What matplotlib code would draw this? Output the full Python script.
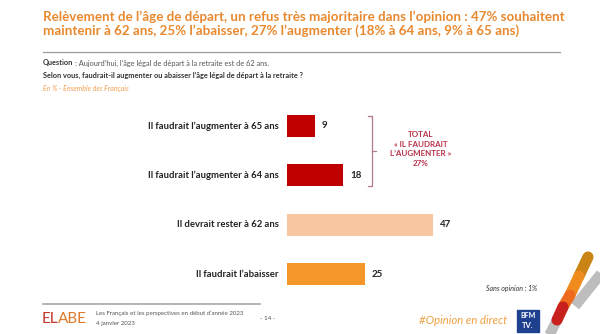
import matplotlib
matplotlib.use("Agg")
import matplotlib.pyplot as plt
from matplotlib.patches import Rectangle
from matplotlib.lines import Line2D

W, H = 600, 334

labels = ["Il faudrait l\u2019augmenter \u00e0 65 ans",
          "Il faudrait l\u2019augmenter \u00e0 64 ans",
          "Il devrait rester \u00e0 62 ans",
          "Il faudrait l\u2019abaisser"]
values = [9, 18, 47, 25]
colors = ["#C00000", "#C00000", "#F8C6A0", "#F5962A"]

title_lines = ["Rel\u00e8vement de l\u2019\u00e2ge de d\u00e9part, un refus tr\u00e8s majoritaire dans l\u2019opinion : 47% souhaitent",
               "maintenir \u00e0 62 ans, 25% l\u2019abaisser, 27% l\u2019augmenter (18% \u00e0 64 ans, 9% \u00e0 65 ans)"]
total_text = "TOTAL\n\u00ab IL FAUDRAIT\nL\u2019AUGMENTER \u00bb\n27%"

plt.rcParams['font.family'] = ['Lato', 'DejaVu Sans']

fig = plt.figure(figsize=(6, 3.34), dpi=100)
fig.patch.set_facecolor("white")


def fx(x):
    return x / W


def fy(y):
    return 1 - y / H


def txt(x, y, s, **kw):
    return fig.text(fx(x), fy(y), s, **kw)


def line(xs, ys, **kw):
    fig.add_artist(Line2D([fx(v) for v in xs], [fy(v) for v in ys], **kw))


# title
for yy, s in zip([17, 31], title_lines):
    txt(43, yy, s, color="#E8892F", fontsize=9.6, fontweight="bold",
        va="center", ha="left")
line([43, 560], [52, 52], color="#9A9A9A", lw=0.9)

q = txt(43, 63, "Question", fontsize=5.3, fontweight="bold", color="#333333", va="center")
fig.canvas.draw()
qx = q.get_window_extent().x1
txt(qx + 1.5, 63, ": Aujourd\u2019hui, l\u2019\u00e2ge l\u00e9gal de d\u00e9part \u00e0 la retraite est de 62 ans.",
    fontsize=5.3, color="#555555", va="center")
txt(43, 75, "Selon vous, faudrait-il augmenter ou abaisser l\u2019\u00e2ge l\u00e9gal de d\u00e9part \u00e0 la retraite ?",
    fontsize=5.3, fontweight="bold", color="#333333", va="center")
txt(43, 88, "En % - Ensemble des Fran\u00e7ais", fontsize=5.0, style="italic",
    color="#F0A050", va="center")

# bars
top_px, bot_px = 101.3, 298.7
ax = fig.add_axes([fx(287), fy(bot_px), fx(310), (bot_px - top_px) / H])
y = list(range(len(values)))
ax.barh(y, values, height=0.44, color=colors)
ax.set_xlim(0, 100)
ax.set_ylim(3.5, -0.5)
ax.axis("off")
for yi, v, lab in zip(y, values, labels):
    ax.text(v + 2.3, yi, str(v), va="center", ha="left", fontsize=7,
            fontweight="bold", color="#222222")
    ax.text(-2.6, yi, lab, va="center", ha="right", fontsize=6.8,
            fontweight="bold", color="#222222")

# bracket
bc = "#B07A88"
line([368, 372, 372, 368], [116, 116, 186, 186], color=bc, lw=0.9)
line([372, 376], [151, 151], color=bc, lw=0.9)
txt(421, 149, total_text, fontsize=5.8, fontweight="bold", color="#B8334A",
    ha="center", va="center", linespacing=1.45)

txt(537, 288, "Sans opinion : 1%", fontsize=5.0, style="italic", color="#333333",
    ha="right", va="center")

# footer
line([43, 260], [304, 304], color="#A8A8A8", lw=1.2)
txt(42, 319, "EL", fontsize=11, color="#C0392B", va="center", ha="left")
txt(58, 319, "ABE", fontsize=11, color="#E07A2A", va="center", ha="left")
txt(96, 313, "Les Fran\u00e7ais et les perspectives en d\u00e9but d\u2019ann\u00e9e 2023",
    fontsize=4.4, color="#555555", va="center")
txt(96, 323, "4 janvier 2023", fontsize=4.4, color="#555555", va="center")
txt(268, 318, "- 14 -", fontsize=4.6, color="#555555", va="center", ha="center")
txt(507, 320, "#Opinion en direct", fontsize=8.2, style="italic", color="#F0A040",
    va="center", ha="right")
fig.add_artist(Rectangle((fx(517), fy(332)), fx(22), 22 / H, color="#1F3F8F"))
txt(528, 316, "BFM", fontsize=5, fontweight="bold", color="white", ha="center", va="center")
txt(528, 326, "TV.", fontsize=5.5, fontweight="bold", color="white", ha="center", va="center")

# logo A
line([575, 604], [306, 270], color="#BDBDBD", lw=7.5, solid_capstyle="butt")
line([558, 548], [318, 338], color="#BDBDBD", lw=7.5, solid_capstyle="butt")
seg_cols = ["#C98415", "#F08C1E", "#EE6A1C", "#C8201C"]
pts = [(588, 257), (579, 276), (570, 295), (563, 307), (557, 320)]
for (x0, y0), (x1, y1), c in zip(pts[:-1], pts[1:], seg_cols):
    line([x0, x1], [y0, y1], color=c, lw=8, solid_capstyle="round")

fig.savefig("out.png", dpi=100, facecolor="white")
